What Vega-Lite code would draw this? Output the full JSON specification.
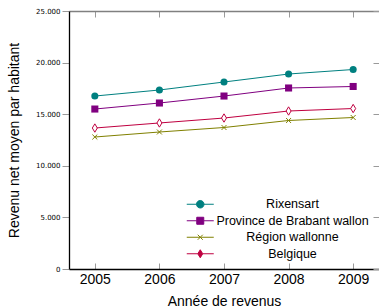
{
  "$schema": "https://vega.github.io/schema/vega-lite/v6.json",
  "width": 310,
  "height": 258,
  "autosize": "none",
  "padding": {"left": 69, "top": 11, "right": 0, "bottom": 39},
  "background": "white",
  "config": {"view": {"stroke": null}, "font": "Liberation Sans"},
  "data": {"values": [
    {"year": 2005, "series": "Rixensart", "value": 16760},
    {"year": 2006, "series": "Rixensart", "value": 17345},
    {"year": 2007, "series": "Rixensart", "value": 18120},
    {"year": 2008, "series": "Rixensart", "value": 18895},
    {"year": 2009, "series": "Rixensart", "value": 19330},
    {"year": 2005, "series": "Province de Brabant wallon", "value": 15500},
    {"year": 2006, "series": "Province de Brabant wallon", "value": 16085},
    {"year": 2007, "series": "Province de Brabant wallon", "value": 16760},
    {"year": 2008, "series": "Province de Brabant wallon", "value": 17540},
    {"year": 2009, "series": "Province de Brabant wallon", "value": 17685},
    {"year": 2005, "series": "Région wallonne", "value": 12790},
    {"year": 2006, "series": "Région wallonne", "value": 13275},
    {"year": 2007, "series": "Région wallonne", "value": 13710},
    {"year": 2008, "series": "Région wallonne", "value": 14390},
    {"year": 2009, "series": "Région wallonne", "value": 14680},
    {"year": 2005, "series": "Belgique", "value": 13660},
    {"year": 2006, "series": "Belgique", "value": 14150},
    {"year": 2007, "series": "Belgique", "value": 14630},
    {"year": 2008, "series": "Belgique", "value": 15310},
    {"year": 2009, "series": "Belgique", "value": 15550}
  ]},
  "resolve": {"axis": {"x": "independent", "y": "independent"}},
  "layer": [
    {
      "mark": {"type": "line", "strokeWidth": 1},
      "encoding": {
        "x": {"field": "year", "type": "quantitative",
          "scale": {"domain": [2004.6, 2009.4], "nice": false, "zero": false},
          "axis": {"orient": "bottom", "values": [2005, 2006, 2007, 2008, 2009], "format": "d",
            "title": "Année de revenus", "titleFontSize": 14, "titleFontWeight": "normal", "titleColor": "black",
            "titlePadding": 8, "labelFontSize": 14, "labelColor": "black", "labelPadding": 9,
            "tickSize": -6, "tickColor": "#9a9a9a", "domainColor": "black", "domainWidth": 1.3, "grid": false, "labelFlush": false}},
        "y": {"field": "value", "type": "quantitative",
          "scale": {"domain": [0, 25000], "nice": false},
          "axis": {"orient": "left", "values": [0, 5000, 10000, 15000, 20000, 25000],
            "labelExpr": "replace(format(datum.value, ','), ',', '.')",
            "title": "Revenu net moyen par habitant", "titleFontSize": 14, "titleFontWeight": "normal", "titleColor": "black",
            "titlePadding": 14, "labelFont": "DejaVu Sans", "labelFontSize": 7, "labelColor": "black", "labelPadding": 2,
            "tickSize": 7, "tickColor": "#9a9a9a", "domainColor": "black", "domainWidth": 1.3, "grid": false}},
        "color": {"field": "series", "type": "nominal",
          "scale": {"domain": ["Rixensart", "Province de Brabant wallon", "Région wallonne", "Belgique"],
                    "range": ["#008080", "#800080", "#808000", "#bf0040"]},
          "legend": {"orient": "none", "legendX": 125, "legendY": 187, "title": null,
            "labelFontSize": 12.5, "labelColor": "black", "labelAlign": "center", "labelOffset": 86,
            "symbolSize": 100, "rowPadding": 3.5, "symbolStrokeWidth": 1,
            "encode": {"symbols": {"update": {
              "shape": {"signal": "datum.value === 'Rixensart' ? 'M-2.7,0L-0.75,0M0.75,0L2.7,0M0.75,0A0.75,0.75,0,1,1,-0.75,0A0.75,0.75,0,1,1,0.75,0Z' : datum.value === 'Province de Brabant wallon' ? 'M-2.7,0L-0.7,0M0.7,0L2.7,0M-0.7,-0.7L0.7,-0.7L0.7,0.7L-0.7,0.7Z' : datum.value === 'Région wallonne' ? 'M-2.7,0L2.7,0M-0.5,-0.5L0.5,0.5M0.5,-0.5L-0.5,0.5' : 'M-2.7,0L-0.5,0M0.5,0L2.7,0M0,-0.8L0.5,0L0,0.8L-0.5,0Z'"},
              "fill": {"signal": "datum.value === 'Région wallonne' ? 'transparent' : datum.value === 'Belgique' ? '#ffffff' : scale('color', datum.value)"},
              "stroke": {"signal": "scale('color', datum.value)"},
              "strokeWidth": {"value": 1},
              "size": {"value": 100},
              "opacity": {"value": 1}
            }}}}
        }
      }
    },
    {
      "transform": [{"filter": "datum.series === 'Rixensart'"}],
      "mark": {"type": "point", "shape": "circle", "filled": true, "size": 50, "opacity": 1},
      "encoding": {
        "x": {"field": "year", "type": "quantitative", "axis": {"orient": "top", "labels": false, "title": null, "tickSize": -6, "tickColor": "#9a9a9a", "domainColor": "#808080", "domainWidth": 1.3, "grid": false, "values": [2005, 2006, 2007, 2008, 2009]}},
        "y": {"field": "value", "type": "quantitative", "axis": {"orient": "right", "labels": false, "title": null, "tickSize": -6, "tickColor": "#9a9a9a", "domainColor": "#808080", "grid": false, "values": [0, 5000, 10000, 15000, 20000, 25000]}},
        "color": {"field": "series", "type": "nominal"}
      }
    },
    {
      "transform": [{"filter": "datum.series === 'Province de Brabant wallon'"}],
      "mark": {"type": "point", "shape": "square", "filled": true, "size": 50, "opacity": 1},
      "encoding": {
        "x": {"field": "year", "type": "quantitative", "axis": null},
        "y": {"field": "value", "type": "quantitative", "axis": null},
        "color": {"field": "series", "type": "nominal"}
      }
    },
    {
      "transform": [{"filter": "datum.series === 'Région wallonne'"}],
      "mark": {"type": "point", "shape": "M-0.7,-0.7L0.7,0.7M0.7,-0.7L-0.7,0.7", "filled": false, "strokeWidth": 1, "size": 50, "opacity": 1},
      "encoding": {
        "x": {"field": "year", "type": "quantitative", "axis": null},
        "y": {"field": "value", "type": "quantitative", "axis": null},
        "color": {"field": "series", "type": "nominal"}
      }
    },
    {
      "transform": [{"filter": "datum.series === 'Belgique'"}],
      "mark": {"type": "point", "shape": "M0,-1L0.6,0L0,1L-0.6,0Z", "filled": false, "fill": "#ffffff", "fillOpacity": 1, "strokeWidth": 1, "size": 70, "opacity": 1},
      "encoding": {
        "x": {"field": "year", "type": "quantitative", "axis": null},
        "y": {"field": "value", "type": "quantitative", "axis": null},
        "color": {"field": "series", "type": "nominal"}
      }
    }
  ]
}
